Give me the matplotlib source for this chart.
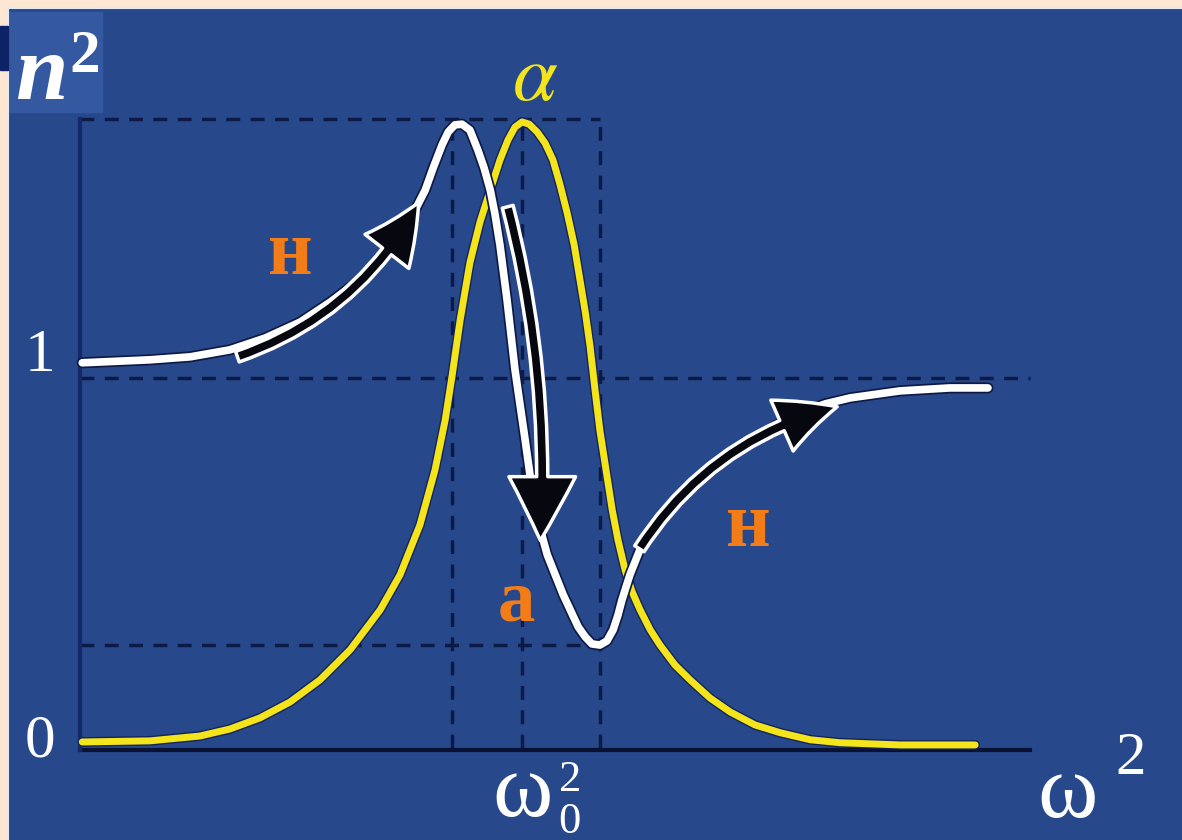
import matplotlib.pyplot as plt
import matplotlib.patheffects as pe
from matplotlib.patches import FancyArrowPatch, Rectangle

# omega^2 in units of omega_0^2, n^2 and absorption
omega2_n = [0.005, 0.158, 0.249, 0.339, 0.419, 0.498, 0.566, 0.633, 0.690, 0.724,
            0.758, 0.781, 0.799, 0.819, 0.833, 0.848, 0.864, 0.882, 0.900, 0.914,
            0.928, 0.939, 0.950, 0.966, 0.984, 1.007, 1.029, 1.057, 1.093, 1.127,
            1.143, 1.158, 1.176, 1.192, 1.206, 1.217, 1.226, 1.244, 1.271, 1.312,
            1.357, 1.403, 1.459, 1.516, 1.572, 1.629, 1.686, 1.742, 1.855, 1.968,
            2.054]
n2 = [1.041, 1.049, 1.057, 1.076, 1.108, 1.151, 1.205, 1.265, 1.332, 1.386,
      1.454, 1.508, 1.568, 1.630, 1.665, 1.684, 1.686, 1.670, 1.616, 1.568,
      1.508, 1.441, 1.359, 1.211, 1.022, 0.832, 0.643, 0.522, 0.414, 0.327,
      0.300, 0.281, 0.278, 0.289, 0.319, 0.359, 0.400, 0.468, 0.549, 0.622,
      0.676, 0.724, 0.778, 0.827, 0.870, 0.905, 0.930, 0.946, 0.965, 0.973,
      0.973]

omega2_a = [0.005, 0.158, 0.271, 0.339, 0.407, 0.475, 0.543, 0.611, 0.679, 0.724,
            0.769, 0.803, 0.826, 0.842, 0.860, 0.882, 0.905, 0.928, 0.950, 0.968,
            0.984, 1.000, 1.016, 1.034, 1.052, 1.070, 1.086, 1.102, 1.118, 1.131,
            1.143, 1.154, 1.165, 1.176, 1.190, 1.204, 1.217, 1.233, 1.249, 1.267,
            1.290, 1.312, 1.346, 1.380, 1.425, 1.471, 1.527, 1.584, 1.652, 1.719,
            1.855, 2.025]
alpha = [0.016, 0.019, 0.032, 0.051, 0.081, 0.124, 0.184, 0.265, 0.373, 0.468,
         0.603, 0.751, 0.886, 1.008, 1.157, 1.311, 1.422, 1.508, 1.589, 1.643,
         1.678, 1.692, 1.686, 1.665, 1.635, 1.589, 1.522, 1.446, 1.359, 1.265,
         1.178, 1.084, 0.968, 0.859, 0.751, 0.643, 0.562, 0.481, 0.422, 0.373,
         0.319, 0.278, 0.224, 0.184, 0.135, 0.097, 0.062, 0.041, 0.022, 0.014,
         0.008, 0.008]

n2_max, n2_min = 1.70, 0.278
omega2_max, omega2_0, omega2_min = 0.842, 1.0, 1.176
x_end = 2.149

BG = "#28488c"
DARK = "#0c1a48"
YELLOW = "#f4e41c"
ORANGE = "#f27d18"
serif = "Liberation Serif"

fig = plt.figure(figsize=(11.82, 8.4), dpi=100, facecolor="#fde6d2")
ax = fig.add_axes([8 / 1182, 0, 1174 / 1182, 832 / 840])
ax.set_facecolor(BG)
ax.set_xlim(-0.163, 2.493)
ax.set_ylim(-0.249, 2.0)
ax.set_xticks([])
ax.set_yticks([])
for side in ["bottom", "right"]:
    ax.spines[side].set_visible(False)
for side in ["top", "left"]:
    ax.spines[side].set_color("#e4eaf4")
    ax.spines[side].set_linewidth(1.5)

# lighter box behind n^2 and the dark mark at the left edge
ax.add_patch(Rectangle((8 / 1182, 1 - 112 / 840), 94 / 1182, 100 / 840,
                       transform=fig.transFigure, color="#3459a0", zorder=0.5))
ax.add_patch(Rectangle((0, 1 - 70 / 840), 8 / 1182, 44 / 840, clip_on=False,
                       transform=fig.transFigure, color="#0e2266", zorder=3))

# guide lines
dash = dict(color=DARK, lw=2.5, ls=(0, (4, 3)), zorder=1)
ax.plot([0, omega2_min], [n2_max, n2_max], **dash)
ax.plot([0, x_end], [1, 1], **dash)
ax.plot([0, omega2_min], [n2_min, n2_min], **dash)
for xv in [omega2_max, omega2_0, omega2_min]:
    ax.plot([xv, xv], [0, n2_max], **dash)
ax.plot([0, x_end], [-0.005, -0.005], color="#0a1233", lw=3, zorder=2)
ax.plot([0, 0], [-0.005, n2_max], color="#15296a", lw=3, zorder=2)

# curves
ax.plot(omega2_a, alpha, color=YELLOW, lw=5, solid_capstyle="round",
        solid_joinstyle="round", zorder=4,
        path_effects=[pe.Stroke(linewidth=7, foreground="#14245a"), pe.Normal()])
ax.plot(omega2_n, n2, color="white", lw=5.5, solid_capstyle="round",
        solid_joinstyle="round", zorder=5,
        path_effects=[pe.Stroke(linewidth=8, foreground="#0e1a44"), pe.Normal()])

# arrows along the curve
arrows = [
    ((0.350, 1.055), (0.769, 1.481), 0.2, 40, 42),
    ((0.966, 1.470), (1.041, 0.553), -0.08, 48, 46),
    ((1.262, 0.532), (1.719, 0.924), -0.2, 40, 42),
]
for start, end, rad, hw, hl in arrows:
    arr = FancyArrowPatch(start, end, connectionstyle=f"arc3,rad={rad}",
                          arrowstyle=f"simple,head_width={hw},head_length={hl},tail_width=8",
                          facecolor="#07070f", edgecolor="white", lw=2.5,
                          mutation_scale=1, zorder=6)
    ax.add_patch(arr)

# labels
ax.text(-0.088, 1.814, "n", color="white", fontsize=68, fontweight="bold",
        fontstyle="italic", family=serif, ha="center", va="center", zorder=7)
ax.text(0.011, 1.868, "2", color="white", fontsize=44, fontweight="bold",
        family=serif, ha="center", va="center", zorder=7)
ax.text(-0.09, 1.059, "1", color="white", fontsize=44, family=serif,
        ha="center", va="center")
ax.text(-0.09, 0.016, "0", color="white", fontsize=44, family=serif,
        ha="center", va="center")

ax.text(1.0, -0.125, "ω", color="white", fontsize=66, family=serif,
        ha="center", va="center")
ax.text(1.108, -0.086, "2", color="white", fontsize=32, family=serif,
        ha="center", va="center")
ax.text(1.108, -0.2, "0", color="white", fontsize=32, family=serif,
        ha="center", va="center")
ax.text(2.235, -0.128, "ω", color="white", fontsize=66, family=serif,
        ha="center", va="center")
ax.text(2.376, -0.03, "2", color="white", fontsize=44, family=serif,
        ha="center", va="center")

plt.rcParams["mathtext.fontset"] = "stix"
ax.text(1.029, 1.81, r"$\alpha$", color=YELLOW, fontsize=58,
        ha="center", va="center")

ax.text(0.475, 1.332, "н", color=ORANGE, fontsize=56, fontweight="bold",
        family=serif, ha="center", va="center", zorder=7)
ax.text(1.511, 0.597, "н", color=ORANGE, fontsize=56, fontweight="bold",
        family=serif, ha="center", va="center", zorder=7)
ax.text(0.986, 0.392, "а", color=ORANGE, fontsize=54, fontweight="bold",
        family=serif, ha="center", va="center", zorder=7)

fig.savefig("out.png", dpi=100, facecolor=fig.get_facecolor())
